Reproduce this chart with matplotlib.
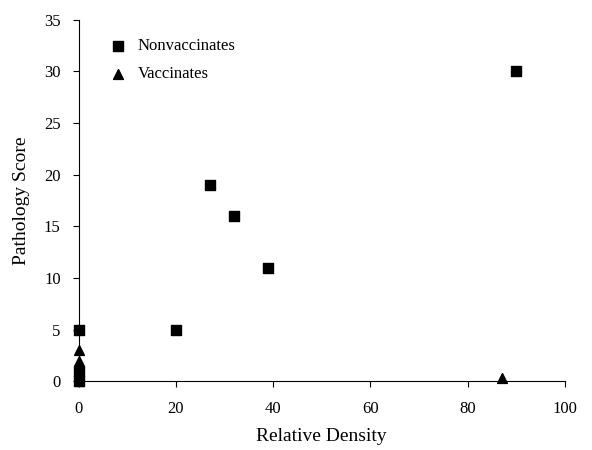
import matplotlib.pyplot as plt

plt.rcParams['font.family'] = ['Liberation Serif', 'DejaVu Serif']

# Nonvaccinates
nv_x = [0, 0, 0, 20, 27, 32, 39, 90]
nv_y = [5, 1, 0, 5, 19, 16, 11, 30]
# Vaccinates
v_x = [0, 0, 0, 0, 0, 0, 87]
v_y = [3, 2, 1.5, 1, 0.5, 0, 0.3]

fig = plt.figure(figsize=(5.92, 4.5), dpi=100)
ax = fig.add_axes([0.133, 0.153, 0.821, 0.803])

ax.scatter(nv_x, nv_y, marker='s', s=50, c='black', label='Nonvaccinates', clip_on=False, zorder=3)
ax.scatter(v_x, v_y, marker='^', s=50, c='black', label='Vaccinates', clip_on=False, zorder=3)

ax.set_xlim(0, 100)
ax.set_ylim(0, 35)
ax.set_xticks(range(0, 101, 20))
ax.set_yticks(range(0, 36, 5))
ax.spines['top'].set_visible(False)
ax.spines['right'].set_visible(False)
ax.tick_params(direction='out', length=4, labelsize=12)
ax.tick_params(axis='x', pad=10)
ax.tick_params(axis='y', pad=9)
ax.set_xlabel('Relative Density', fontsize=14, labelpad=8)
ax.set_ylabel('Pathology Score', fontsize=14, labelpad=10)

ax.legend(loc='upper left', bbox_to_anchor=(0.015, 0.99), frameon=False, fontsize=12,
          handletextpad=0.2, labelspacing=0.7, markerscale=1.0)

fig.savefig('out.png', dpi=100)
